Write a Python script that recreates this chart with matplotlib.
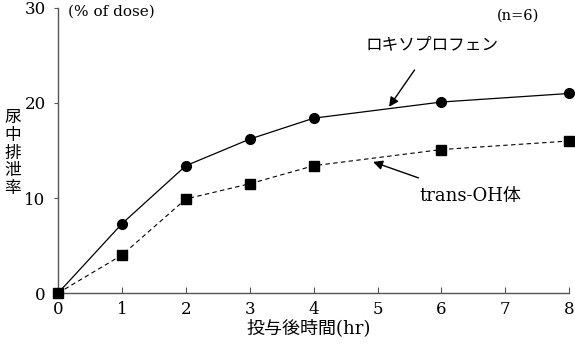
import matplotlib
matplotlib.use("Agg")
import matplotlib.pyplot as plt

plt.rcParams['font.family'] = ['DejaVu Serif', 'Noto Sans CJK JP']

# données
heures = [0, 1, 2, 3, 4, 6, 8]
loxo = [0, 7.3, 13.4, 16.2, 18.4, 20.1, 21.0]
loxo_err = [0, 0.5, 0.3, 0.4, 0.4, 0.4, 0.3]
trans_oh = [0, 4.0, 9.9, 11.5, 13.4, 15.1, 16.0]
trans_err = [0, 0.2, 0.3, 0.3, 0.4, 0.3, 0.4]

fig = plt.figure(figsize=(5.75, 3.44), dpi=100)
ax = fig.add_axes([0.101, 0.148, 0.889, 0.829])

ax.errorbar(heures, loxo, yerr=loxo_err, fmt="o-", color="black", lw=0.9,
            ms=7, elinewidth=1, capsize=0, clip_on=False, zorder=3)
ax.errorbar(heures, trans_oh, yerr=trans_err, fmt="s--", color="black", lw=0.8,
            ms=7, elinewidth=1, capsize=0, dashes=(4, 3), clip_on=False, zorder=3)

ax.set_xlim(0, 8)
ax.set_ylim(0, 30)
ax.set_xticks(range(0, 9))
ax.set_yticks([0, 10, 20, 30])
for s in ["top", "right"]:
    ax.spines[s].set_visible(False)
for s in ["left", "bottom"]:
    ax.spines[s].set_color("#555555")
    ax.spines[s].set_linewidth(1)
ax.tick_params(axis="x", direction="in", length=4, color="#555555", labelsize=12, pad=6)
ax.tick_params(axis="y", direction="out", length=3, color="#555555", labelsize=12, pad=6)

fig.text(0.118, 0.965, "(% of dose)", fontsize=11, va="center", ha="left")
fig.text(0.864, 0.955, "(n=6)", fontsize=10.5, va="center", ha="left")

fig.text(0.022, 0.555, "尿\n中\n排\n泄\n率", fontsize=12, ha="center", va="center",
         family=['Noto Sans CJK JP'], linespacing=1.05)
fig.text(0.537, 0.045, "投与後時間(hr)", fontsize=13, ha="center", va="center")

ax.annotate("ロキソプロフェン", xy=(5.18, 19.6), xytext=(5.85, 26.1),
            fontsize=12, ha="center", va="center", family=['Noto Sans CJK JP'],
            arrowprops=dict(arrowstyle="-|>", color="black", lw=1,
                            mutation_scale=14, shrinkA=12, shrinkB=0))
ax.annotate("trans-OH体", xy=(4.93, 13.8), xytext=(6.45, 10.2),
            fontsize=13, ha="center", va="center",
            arrowprops=dict(arrowstyle="-|>", color="black", lw=1,
                            mutation_scale=14, shrinkA=14, shrinkB=0))

fig.savefig("out.png", dpi=100)
